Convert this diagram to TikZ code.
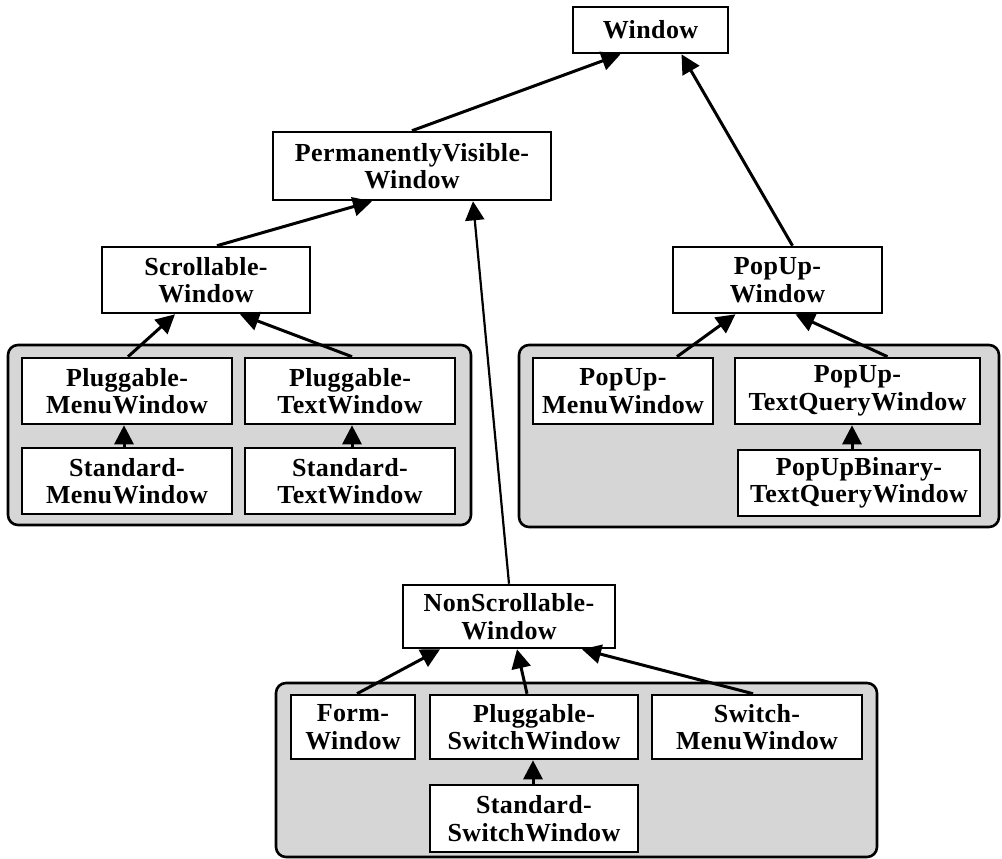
\documentclass[tikz,border=0pt]{standalone}
\usepackage{fontspec}
\setmainfont{Liberation Serif}[LetterSpace=1.5]
\usetikzlibrary{arrows.meta}
\begin{document}
\begin{tikzpicture}[x=1pt,y=-1pt,
  cls/.style={draw, line width=2.6pt, fill=white, inner sep=0pt, align=center,
    font=\bfseries\fontsize{26}{27.5}\selectfont, minimum height=66pt},
  grp/.style={draw, line width=2.6pt, rounded corners=10pt, fill=black!16, inner sep=0pt},
  inh/.style={line width=3pt, -{Triangle[length=19pt,width=19pt]}},
  thin inh/.style={inh, line width=2.2pt},
]
\useasboundingbox (0,0) rectangle (1002,859);

% shaded groups
\node[grp, minimum width=463pt, minimum height=180pt] (leftgrp)  at (239.5,435) {};
\node[grp, minimum width=480pt, minimum height=182pt] (rightgrp) at (759,436) {};
\node[grp, minimum width=601pt, minimum height=174pt] (botgrp)   at (576.5,770) {};

% classes
\node[cls, minimum width=155pt, minimum height=46pt] (win) at (650.5,30) {Window};
\node[cls, minimum width=278pt, minimum height=68pt] (pv)  at (412,166) {PermanentlyVisible-\\Window};
\node[cls, minimum width=208pt] (scr) at (206,280) {Scrollable-\\Window};
\node[cls, minimum width=209pt] (pop) at (777.5,280) {PopUp-\\Window};

\node[cls, minimum width=210pt] (pmw) at (127,391) {Pluggable-\\MenuWindow};
\node[cls, minimum width=210pt] (ptw) at (350,391) {Pluggable-\\TextWindow};
\node[cls, minimum width=210pt] (smw) at (127,481) {Standard-\\MenuWindow};
\node[cls, minimum width=210pt] (stw) at (350,481) {Standard-\\TextWindow};

\node[cls, minimum width=180pt] (pumw)  at (623,391) {PopUp-\\MenuWindow};
\node[cls, minimum width=245pt] (putq)  at (857.5,391) {PopUp-\\TextQueryWindow};
\node[cls, minimum width=242pt] (pubtq) at (859,483) {PopUpBinary-\\TextQueryWindow};

\node[cls, minimum width=212pt, minimum height=63pt] (nsw) at (509,616.5) {NonScrollable-\\Window};
\node[cls, minimum width=124pt, minimum height=64pt] (form) at (353,727) {Form-\\Window};
\node[cls, minimum width=208pt, minimum height=64pt] (psw)  at (534,727) {Pluggable-\\SwitchWindow};
\node[cls, minimum width=210pt, minimum height=64pt] (swm)  at (757,727) {Switch-\\MenuWindow};
\node[cls, minimum width=208pt, minimum height=67pt] (ssw)  at (534,818.5) {Standard-\\SwitchWindow};

% inheritance links
\draw[inh] (pv.north) -- ([xshift=-30pt]win.south);
\draw[inh] ([xshift=15pt]pop.north) -- ([xshift=31pt]win.south);
\draw[inh] ([xshift=11pt]scr.north) -- ([xshift=-40pt]pv.south);
\draw[thin inh] (nsw.north) -- ([xshift=61pt]pv.south);

\draw[inh] ([xshift=1pt]pmw.north) -- ([xshift=-31pt]scr.south);
\draw[inh] ([xshift=2pt]ptw.north) -- ([xshift=34pt]scr.south);
\draw[inh] ([xshift=-3pt]smw.north) -- ([xshift=-3pt]pmw.south);
\draw[inh] ([xshift=2pt]stw.north) -- ([xshift=2pt]ptw.south);

\draw[inh] ([xshift=54pt]pumw.north) -- ([xshift=-42pt]pop.south);
\draw[inh] ([xshift=30pt]putq.north) -- ([xshift=18pt]pop.south);
\draw[inh] ([xshift=-7pt]pubtq.north) -- ([xshift=-5.5pt]putq.south);

\draw[inh] ([xshift=4pt]form.north) -- ([xshift=-69pt]nsw.south);
\draw[inh] ([xshift=-7pt]psw.north) -- ([xshift=8pt]nsw.south);
\draw[inh] ([xshift=-4pt]swm.north) -- ([xshift=73pt]nsw.south);
\draw[inh] ([xshift=-1pt]ssw.north) -- ([xshift=-1pt]psw.south);
\end{tikzpicture}
\end{document}
